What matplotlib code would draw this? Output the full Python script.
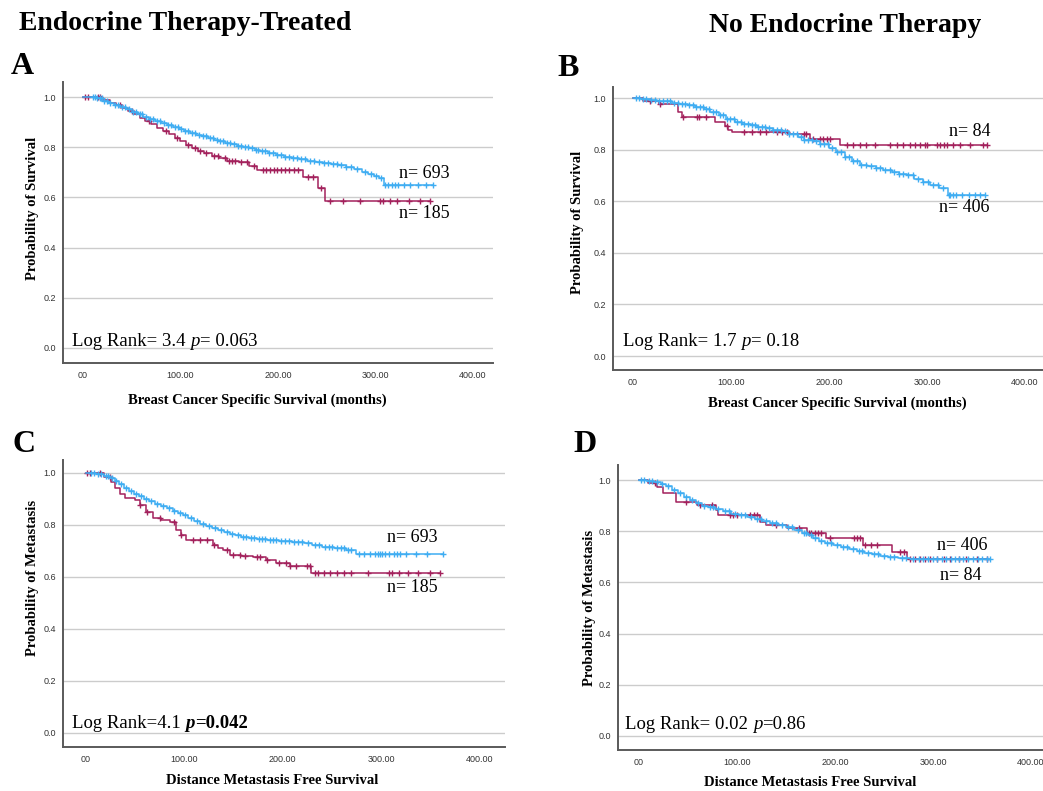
import numpy as np
import matplotlib
import matplotlib.pyplot as plt

matplotlib.use('Agg')

# ---- data (months, survival) ----
a_blue_time = [0, 14, 20, 26, 32, 38, 44, 50, 56, 62, 68, 74, 80, 86, 92, 98, 104, 110, 116, 122,
               128, 134, 140, 146, 152, 158, 164, 170, 176, 182, 190, 198, 206, 214, 222, 230, 238, 246,
               254, 262, 270, 278, 286, 292, 298, 304, 309]
a_blue_surv = [1.0, .995, .985, .975, .967, .96, .952, .942, .932, .922, .912, .904, .896, .888, .879, .871,
               .863, .856, .85, .843, .836, .829, .823, .817, .811, .806, .801, .796, .79, .784, .777, .77,
               .763, .757, .752, .747, .741, .736, .733, .728, .722, .713, .702, .693, .685, .677, .648]
a_blue_cens = [10, 12, 14, 17, 19, 22, 25, 28, 33, 36, 40, 43, 47, 51, 54, 58, 61, 65, 69, 72, 76, 79, 83,
               87, 90, 94, 97, 101, 105, 108, 112, 115, 119, 123, 126, 130, 133, 137, 141, 144, 148, 151,
               155, 159, 162, 166, 169, 173, 177, 180, 184, 187, 191, 195, 199, 203, 207, 211, 215, 219,
               224, 228, 233, 237, 242, 247, 251, 256, 260, 265, 270, 275, 281, 289, 295, 301, 306, 310,
               313, 317, 320, 323, 329, 335, 344, 352, 359]
a_red_time = [0, 20, 28, 34, 40, 46, 52, 58, 64, 70, 76, 82, 88, 94, 100, 106, 112, 118, 124, 132, 140,
              148, 160, 170, 178, 226, 241, 248]
a_red_surv = [1.0, .99, .978, .968, .958, .946, .932, .918, .905, .892, .878, .866, .852, .838, .824, .81,
              .798, .786, .776, .766, .756, .746, .74, .724, .711, .682, .638, .587]
a_red_cens = [2, 5, 15, 17, 38, 50, 68, 85, 96, 108, 115, 120, 126, 134, 138, 146, 150, 153, 156, 162,
              168, 175, 185, 188, 192, 196, 199, 203, 207, 211, 216, 220, 231, 236, 244, 253, 267, 284,
              305, 308, 315, 322, 334, 346, 356]

b_blue_time = [0, 8, 17, 24, 31, 40, 47, 56, 63, 72, 79, 88, 95, 104, 111, 120, 127, 136, 143, 152, 159,
               168, 175, 184, 191, 200, 207, 216, 223, 232, 239, 248, 255, 264, 271, 280, 287, 296, 303,
               312, 321]
b_blue_surv = [1.0, .997, .993, .99, .987, .982, .978, .973, .967, .958, .948, .935, .92, .906, .9, .895,
               .889, .883, .878, .873, .862, .85, .838, .832, .823, .808, .792, .772, .756, .742, .735,
               .728, .72, .712, .706, .7, .688, .675, .662, .652, .624]
b_blue_cens = [3, 6, 10, 13, 18, 22, 27, 31, 35, 38, 42, 46, 50, 53, 57, 61, 64, 68, 71, 75, 78, 82, 85,
               89, 92, 96, 99, 103, 106, 110, 113, 117, 121, 124, 128, 132, 135, 139, 143, 147, 151, 155,
               159, 163, 167, 171, 175, 179, 183, 187, 191, 195, 199, 203, 208, 212, 216, 220, 225, 229,
               233, 238, 243, 248, 252, 257, 262, 266, 271, 276, 281, 286, 291, 296, 301, 306, 311, 316,
               322, 324, 327, 330, 336, 343, 349, 354, 359]
b_red_time = [0, 10, 27, 46, 50, 84, 94, 97, 101, 158, 181, 211]
b_red_surv = [1.0, .99, .977, .947, .928, .908, .89, .877, .87, .86, .84, .818]
b_red_cens = [17, 28, 51, 65, 67, 75, 96, 113, 121, 130, 136, 147, 152, 157, 174, 177, 184, 191, 194,
              198, 201, 218, 225, 232, 238, 247, 262, 269, 276, 283, 288, 293, 298, 300, 310, 313, 317,
              320, 327, 334, 344, 357, 361]

c_blue_time = [0, 10, 18, 24, 29, 34, 39, 44, 49, 54, 59, 64, 70, 76, 82, 88, 94, 99, 104, 110, 116, 122,
               128, 134, 140, 146, 152, 158, 166, 174, 184, 196, 210, 222, 230, 240, 252, 264, 275]
c_blue_surv = [1.0, .997, .99, .98, .968, .956, .944, .932, .92, .91, .9, .891, .882, .873, .864, .855,
               .846, .837, .827, .816, .805, .796, .788, .78, .773, .766, .76, .754, .749, .745, .742,
               .739, .735, .73, .724, .716, .71, .704, .69]
c_blue_cens = [5, 8, 12, 15, 20, 22, 26, 31, 36, 41, 46, 51, 56, 61, 66, 72, 78, 84, 90, 96, 101, 107,
               113, 119, 125, 131, 137, 143, 149, 155, 160, 163, 168, 171, 176, 179, 182, 187, 190, 193,
               198, 202, 206, 212, 216, 220, 226, 233, 237, 243, 247, 250, 255, 259, 262, 266, 270, 278,
               283, 289, 294, 297, 299, 301, 304, 308, 313, 316, 319, 326, 336, 347, 363]
c_red_time = [0, 18, 25, 30, 35, 40, 50, 55, 61, 68, 76, 85, 92, 97, 102, 129, 134, 139, 146, 158, 170,
              183, 193, 207, 229]
c_red_surv = [1.0, .985, .965, .941, .92, .903, .896, .875, .851, .826, .82, .813, .781, .76, .742, .723,
              .712, .704, .685, .68, .676, .665, .655, .642, .617]
c_red_cens = [1, 4, 14, 24, 55, 62, 75, 90, 97, 109, 116, 123, 130, 143, 150, 157, 162, 174, 177, 184,
              196, 203, 208, 214, 225, 228, 233, 236, 242, 248, 255, 262, 270, 287, 308, 311, 318, 328,
              338, 350, 360]

d_blue_time = [0, 8, 15, 22, 28, 34, 40, 46, 52, 58, 64, 70, 78, 86, 94, 102, 110, 118, 126, 134, 142,
               150, 158, 166, 172, 178, 184, 190, 198, 206, 214, 222, 230, 238, 246, 254, 264, 276, 284]
d_blue_surv = [1.0, .997, .993, .985, .975, .962, .948, .934, .922, .91, .9, .894, .886, .878, .869, .862,
               .856, .848, .84, .832, .824, .815, .806, .795, .784, .772, .763, .755, .746, .738, .73,
               .722, .716, .71, .703, .699, .696, .693, .69]
d_blue_cens = [2, 5, 10, 13, 18, 24, 30, 36, 42, 48, 54, 60, 66, 72, 76, 81, 88, 92, 98, 104, 108, 114,
               120, 124, 130, 136, 140, 146, 152, 156, 162, 168, 170, 175, 180, 186, 192, 196, 202, 208,
               212, 218, 224, 228, 234, 240, 244, 250, 256, 260, 268, 272, 280, 286, 290, 295, 300, 304,
               309, 313, 318, 322, 327, 331, 336, 341, 346, 350, 355, 358]
d_red_time = [0, 9, 18, 25, 38, 59, 79, 81, 123, 130, 151, 171, 191, 229, 258, 273]
d_red_surv = [1.0, .99, .974, .948, .915, .902, .883, .863, .837, .824, .811, .794, .772, .746, .72, .691]
d_red_cens = [16, 48, 62, 74, 93, 96, 100, 113, 117, 120, 140, 163, 173, 176, 180, 183, 186, 195, 219,
              222, 226, 231, 237, 243, 266, 270, 277, 282, 287, 292, 297, 304, 311, 317, 326, 334, 345, 355]

x_ticks = [0, 100, 200, 300, 400]
x_tick_labels = ['00', '100.00', '200.00', '300.00', '400.00']
y_ticks = [0.0, 0.2, 0.4, 0.6, 0.8, 1.0]

BLUE = '#3fadf2'
RED = '#a3215c'
W, H = 1043, 791
SERIF = 'Liberation Serif'


def km_plot(ax, time, surv, cens, color):
    time = np.array(time, dtype=float)
    surv = np.array(surv, dtype=float)
    cens = np.array(cens, dtype=float)
    # extend last level to the last censored case
    t = np.append(time, cens.max())
    s = np.append(surv, surv[-1])
    ax.step(t, s, where='post', color=color, lw=1.1)
    idx = np.searchsorted(time, cens, side='right') - 1
    ax.plot(cens, surv[idx], ls='none', marker='+', ms=5, mew=1.0, color=color)


def make_panel(fig, box, xlim, ylim):
    left, top, right, bottom = box
    ax = fig.add_axes([left / W, 1 - bottom / H, (right - left) / W, (bottom - top) / H])
    ax.set_xlim(*xlim)
    ax.set_ylim(*ylim)
    for side in ['top', 'right']:
        ax.spines[side].set_visible(False)
    for side in ['left', 'bottom']:
        ax.spines[side].set_color('#5a5a5a')
        ax.spines[side].set_linewidth(1.4)
    ax.set_yticks(y_ticks)
    ax.set_yticklabels(['%.1f' % v for v in y_ticks])
    ax.set_xticks(x_ticks)
    ax.set_xticklabels(x_tick_labels)
    ax.tick_params(length=0, labelsize=6.5, labelcolor='#333333')
    ax.tick_params(axis='x', pad=6)
    ax.tick_params(axis='y', pad=5)
    for lab in ax.get_xticklabels() + ax.get_yticklabels():
        lab.set_family('Liberation Sans')
    ax.yaxis.grid(True, color='#cccccc', lw=1.0)
    ax.set_axisbelow(True)
    return ax


def ftext(fig, x, y, s, **kw):
    return fig.text(x / W, 1 - y / H, s, family=SERIF, **kw)


def log_rank(fig, x, y, pieces):
    # pieces are chained left to right, each placed at the right edge of the one before
    prev = None
    for txt, style, weight in pieces:
        if prev is None:
            prev = ftext(fig, x, y, txt, fontsize=13.5, style=style, weight=weight, va='bottom')
        else:
            prev = fig.add_artist(matplotlib.text.Annotation(
                txt, xy=(1, 0), xycoords=prev, va='bottom', ha='left',
                family=SERIF, fontsize=13.5, style=style, weight=weight))


fig = plt.figure(figsize=(W / 100, H / 100), dpi=100)

# panel A
ax = make_panel(fig, (63, 82, 493, 363), (-20.5, 420.5), (-0.06, 1.06))
km_plot(ax, a_red_time, a_red_surv, a_red_cens, RED)
km_plot(ax, a_blue_time, a_blue_surv, a_blue_cens, BLUE)

# panel B
ax = make_panel(fig, (613, 87, 1043, 370), (-20.4, 418.4), (-0.054, 1.043))
km_plot(ax, b_red_time, b_red_surv, b_red_cens, RED)
km_plot(ax, b_blue_time, b_blue_surv, b_blue_cens, BLUE)

# panel C
ax = make_panel(fig, (63, 460, 505, 747), (-23.4, 426.2), (-0.054, 1.05))
km_plot(ax, c_red_time, c_red_surv, c_red_cens, RED)
km_plot(ax, c_blue_time, c_blue_surv, c_blue_cens, BLUE)

# panel D
ax = make_panel(fig, (618, 465, 1043, 750), (-21.4, 412.2), (-0.055, 1.059))
km_plot(ax, d_red_time, d_red_surv, d_red_cens, RED)
km_plot(ax, d_blue_time, d_blue_surv, d_blue_cens, BLUE)

# headings and panel letters
ftext(fig, 185, 24, 'Endocrine Therapy-Treated', fontsize=20, weight='bold', ha='center', va='center')
ftext(fig, 845, 25, 'No Endocrine Therapy', fontsize=20, weight='bold', ha='center', va='center')
ftext(fig, 11, 66, 'A', fontsize=23, weight='bold', va='center')
ftext(fig, 557, 68, 'B', fontsize=23, weight='bold', va='center')
ftext(fig, 12, 444, 'C', fontsize=23, weight='bold', va='center')
ftext(fig, 573, 444, 'D', fontsize=23, weight='bold', va='center')

# axis titles
ftext(fig, 33, 208, 'Probability of Survival', fontsize=10.5, weight='bold', rotation=90, ha='center', va='center')
ftext(fig, 578, 222, 'Probability of Survival', fontsize=10.5, weight='bold', rotation=90, ha='center', va='center')
ftext(fig, 33, 578, 'Probability of Metastasis', fontsize=10.5, weight='bold', rotation=90, ha='center', va='center')
ftext(fig, 590, 608, 'Probability of Metastasis', fontsize=10.5, weight='bold', rotation=90, ha='center', va='center')
ftext(fig, 257, 400, 'Breast Cancer Specific Survival (months)', fontsize=10.5, weight='bold', ha='center', va='center')
ftext(fig, 837, 403, 'Breast Cancer Specific Survival (months)', fontsize=10.5, weight='bold', ha='center', va='center')
ftext(fig, 272, 780, 'Distance Metastasis Free Survival', fontsize=10.5, weight='bold', ha='center', va='center')
ftext(fig, 810, 783, 'Distance Metastasis Free Survival', fontsize=10.5, weight='bold', ha='center', va='center')

# log rank results (p in italics)
log_rank(fig, 72, 350, [('Log Rank= 3.4 ', 'normal', 'normal'), ('p', 'italic', 'normal'),
                        ('= 0.063', 'normal', 'normal')])
log_rank(fig, 623, 350, [('Log Rank= 1.7 ', 'normal', 'normal'), ('p', 'italic', 'normal'),
                         ('= 0.18', 'normal', 'normal')])
log_rank(fig, 72, 732, [('Log Rank=4.1 ', 'normal', 'normal'), ('p', 'italic', 'bold'),
                        ('=0.042', 'normal', 'bold')])
log_rank(fig, 625, 733, [('Log Rank= 0.02 ', 'normal', 'normal'), ('p', 'italic', 'normal'),
                         ('=0.86', 'normal', 'normal')])

# group sizes
ftext(fig, 424, 173, 'n= 693', fontsize=13, ha='center', va='center')
ftext(fig, 424, 214, 'n= 185', fontsize=13, ha='center', va='center')
ftext(fig, 970, 132, 'n= 84', fontsize=13, ha='center', va='center')
ftext(fig, 964, 207, 'n= 406', fontsize=13, ha='center', va='center')
ftext(fig, 412, 537, 'n= 693', fontsize=13, ha='center', va='center')
ftext(fig, 412, 588, 'n= 185', fontsize=13, ha='center', va='center')
ftext(fig, 962, 546, 'n= 406', fontsize=13, ha='center', va='center')
ftext(fig, 961, 575, 'n= 84', fontsize=13, ha='center', va='center')

fig.savefig('out.png', dpi=100)
